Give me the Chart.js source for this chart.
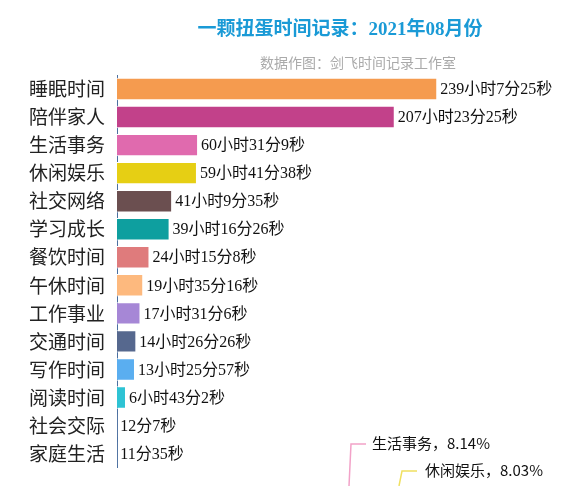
<!DOCTYPE html><html><head><meta charset="utf-8">
<script src="https://cdn.jsdelivr.net/npm/chart.js@4"></script>
<style>body{margin:0;background:#fff}#w{width:577px;height:486px}</style></head><body>
<div id="w"><canvas id="c"></canvas></div>
<script>
const categories=["睡眠时间","陪伴家人","生活事务","休闲娱乐","社交网络","学习成长","餐饮时间","午休时间","工作事业","交通时间","写作时间","阅读时间","社会交际","家庭生活"];
const hours=[239.12,207.39,60.53,59.69,41.16,39.27,24.25,19.59,17.53,14.44,13.43,6.72,0.20,0.19];
const valueLabels=["239小时7分25秒","207小时23分25秒","60小时31分9秒","59小时41分38秒","41小时9分35秒","39小时16分26秒","24小时15分8秒","19小时35分16秒","17小时31分6秒","14小时26分26秒","13小时25分57秒","6小时43分2秒","12分7秒","11分35秒"];
const colors=["#f59b4f","#c2418a","#e06aae","#e6cf14","#6b4f50","#0e9f9f","#df7b7c","#fdb97e","#a687d6","#56688e","#5aaef0","#2ec3d4","#9b9b9b","#b0b0b0"];
const noteLabels=["生活事务，8.14%","休闲娱乐，8.03%"];
const extra={id:'extra',afterDraw(ch){const c=ch.ctx,m=ch.getDatasetMeta(0);c.save();
c.font='16px "Liberation Serif","Noto Sans CJK SC"';c.fillStyle='#111';c.textBaseline='middle';
m.data.forEach((b,i)=>c.fillText(valueLabels[i],b.x+3,b.y+1));
c.fillStyle='#1a9ad6';c.font='bold 19px "Liberation Serif","Noto Sans CJK SC"';c.textAlign='center';c.fillText('一颗扭蛋时间记录：2021年08月份',340,30);
c.fillStyle='#aaa';c.font='14px "Noto Sans CJK SC"';c.fillText('数据作图：剑飞时间记录工作室',358,63);
c.textAlign='left';c.fillStyle='#111';c.font='15px "Noto Sans CJK SC"';
c.fillText(noteLabels[0],372,443);c.fillText(noteLabels[1],425,470);
c.lineWidth=1.5;c.strokeStyle='#f2a2c8';c.beginPath();c.moveTo(349,486);c.lineTo(351,444);c.lineTo(366,444);c.stroke();
c.strokeStyle='#f0e060';c.beginPath();c.moveTo(399,486);c.lineTo(402,471);c.lineTo(417,471);c.stroke();
c.restore();}};
new Chart(document.getElementById('c'),{type:'bar',data:{labels:categories,datasets:[{data:hours,backgroundColor:colors,borderColor:'#ffffff',borderWidth:1,categoryPercentage:1,barPercentage:0.8}]},
options:{indexAxis:'y',responsive:true,maintainAspectRatio:false,animation:false,
layout:{padding:{top:75,bottom:18,left:22,right:10}},
plugins:{legend:{display:false},tooltip:{enabled:false}},
scales:{x:{display:false,min:0,max:336},y:{grid:{display:false,drawTicks:true,tickLength:5},border:{color:'#4a6fa0'},
ticks:{color:'#222',font:{size:19,family:'"Noto Sans CJK SC"'},padding:7}}}},plugins:[extra]});
</script></body></html>
